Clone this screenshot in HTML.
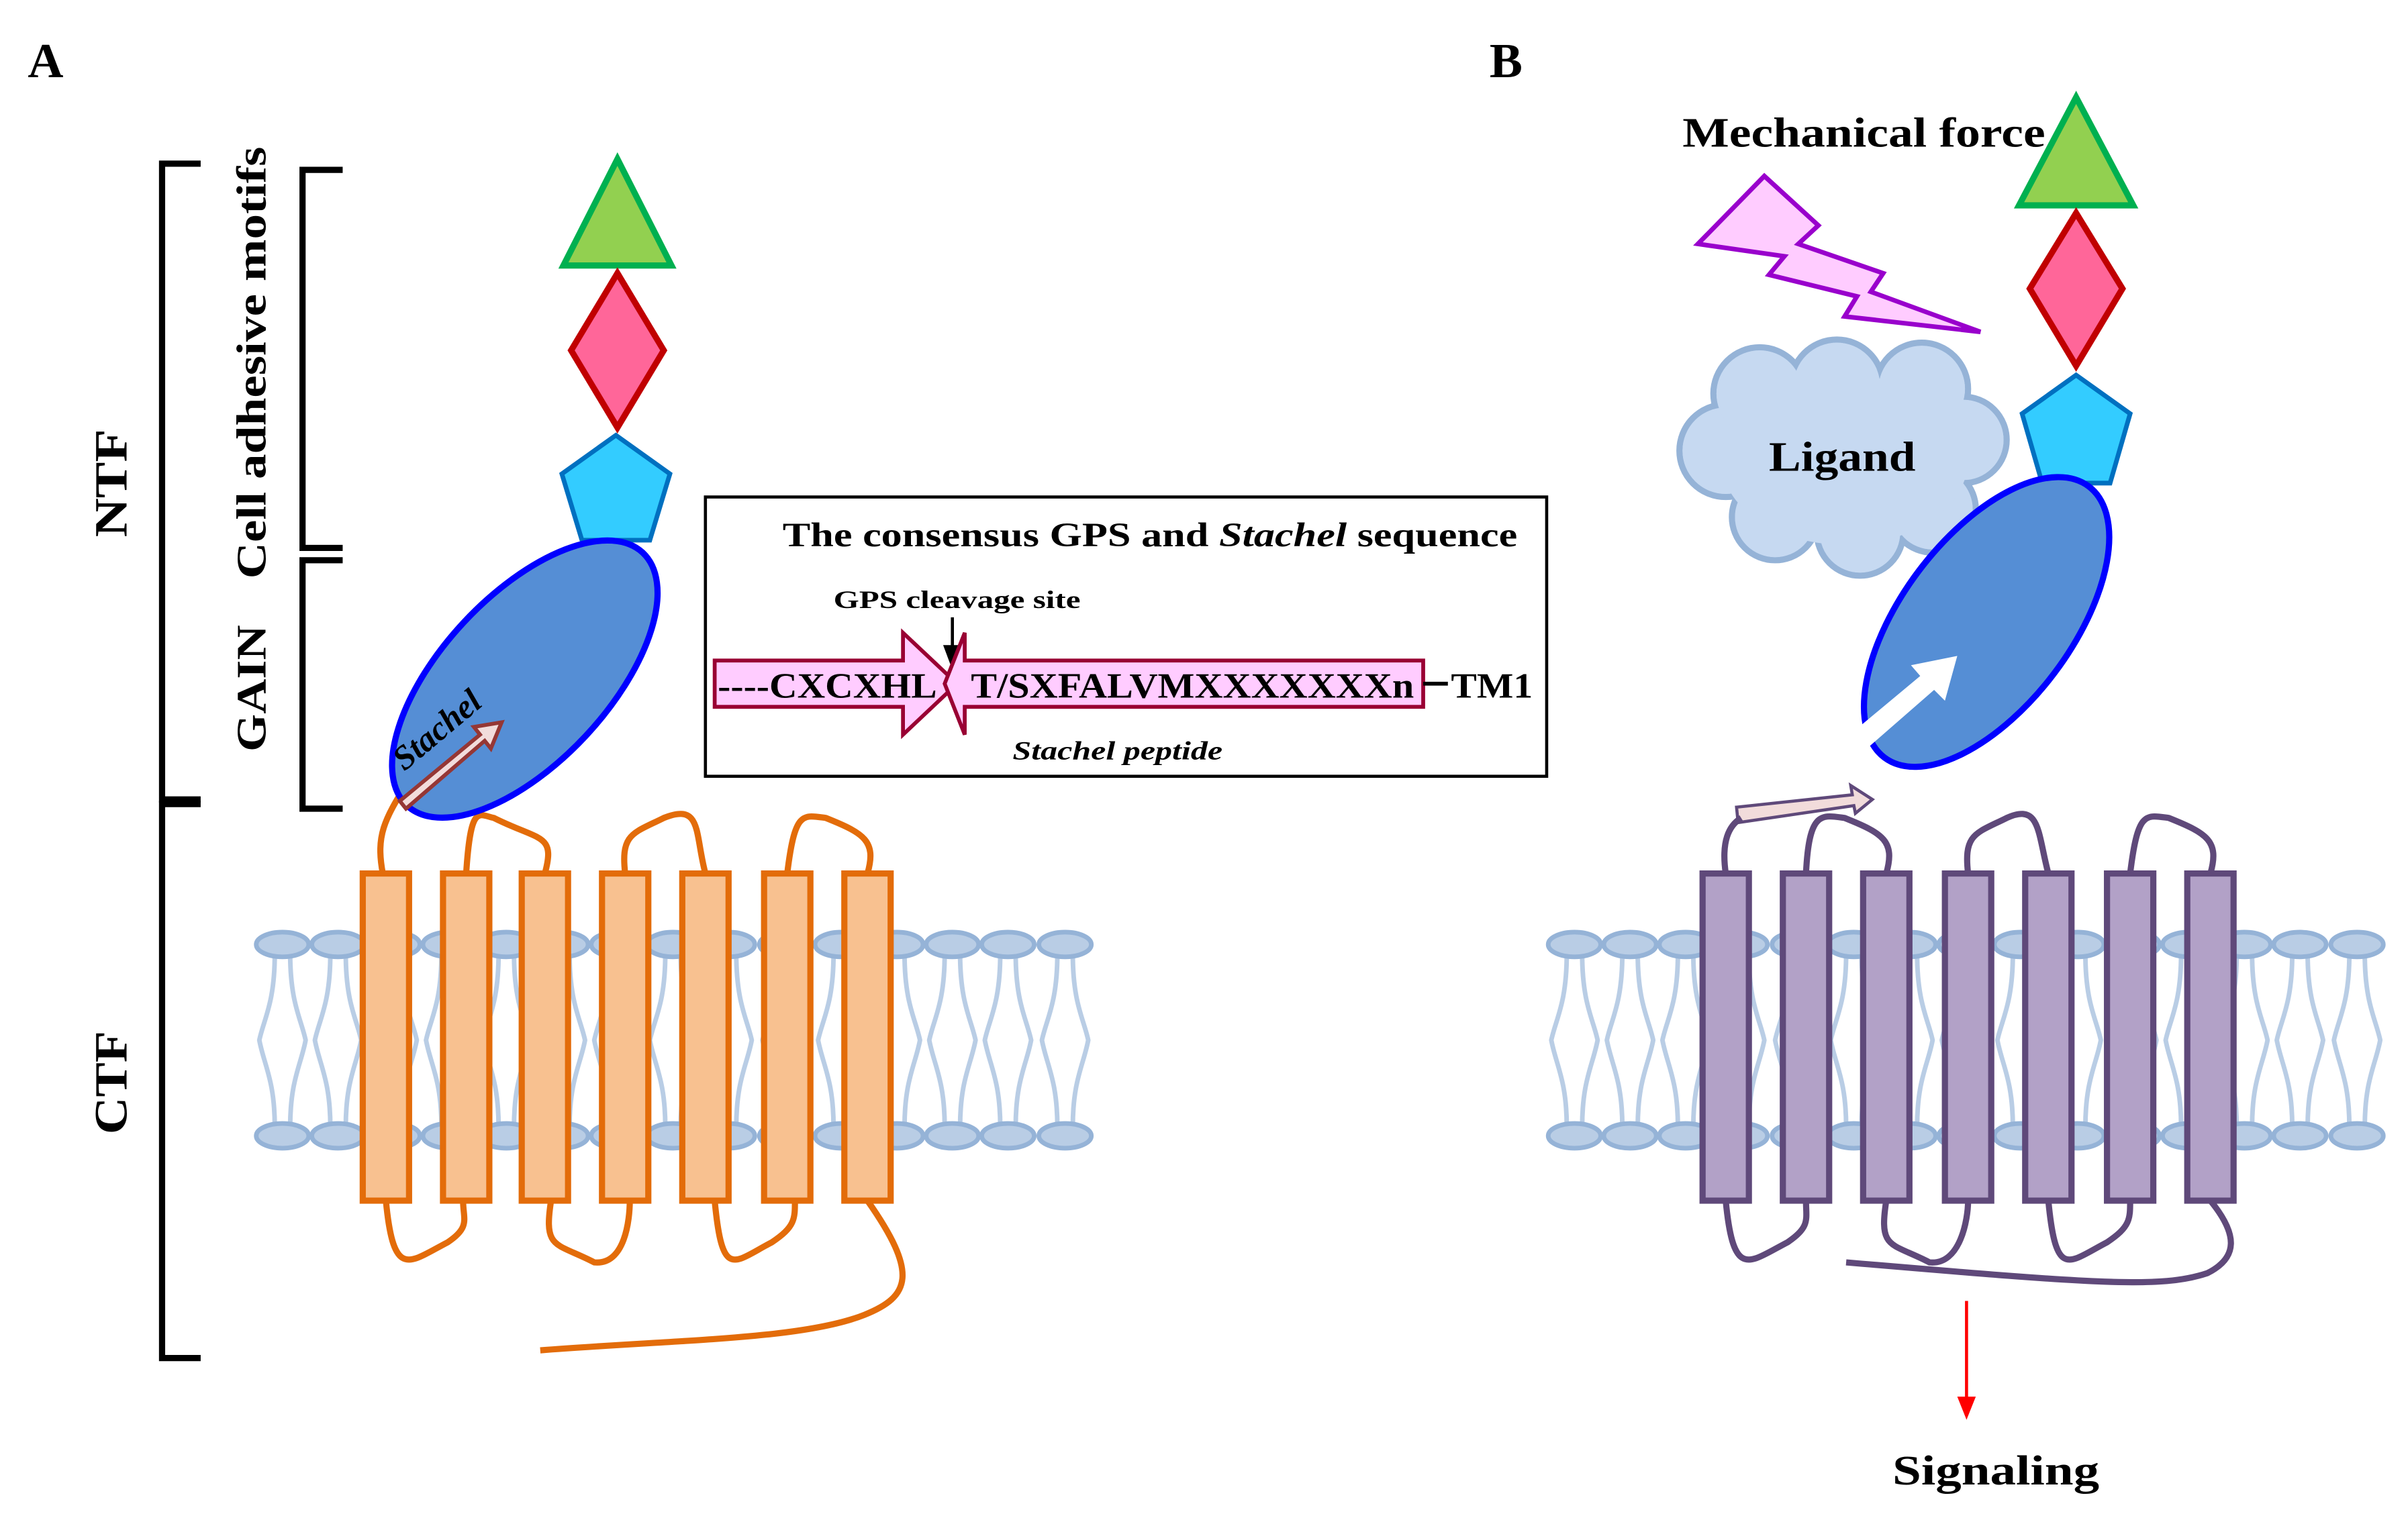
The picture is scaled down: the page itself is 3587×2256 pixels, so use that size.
<!DOCTYPE html>
<html><head><meta charset="utf-8"><style>
html,body{margin:0;padding:0;background:#fff;}
svg{display:block;}
text{font-family:"Liberation Serif",serif;font-weight:bold;}
</style></head><body>
<svg width="3587" height="2256" viewBox="0 0 1560 981" xmlns="http://www.w3.org/2000/svg">
<defs>
<g id="lip">
<path d="M-5,618 C-5,650 -12,660 -15,674 C-12,690 -5,700 -5,730 M5,618 C5,650 12,660 15,674 C12,690 5,700 5,730" fill="none" stroke="#b9cde5" stroke-width="3"/>
<ellipse cx="0" cy="612" rx="17" ry="8" fill="#b9cde5" stroke="#95b3d7" stroke-width="3"/>
<ellipse cx="0" cy="736" rx="17" ry="8" fill="#b9cde5" stroke="#95b3d7" stroke-width="3"/>
</g>
</defs>
<rect width="1560" height="981" fill="#fff"/>
<text x="18" y="50" font-size="32">A</text>
<text x="965" y="50" font-size="32">B</text>

<g fill="none" stroke="#000" stroke-width="4">
<path d="M130,106 H105 V518 H130"/>
<path d="M130,521 H105 V880 H130"/>
<path d="M222,110 H196 V355 H222"/>
<path d="M222,363 H196 V524 H222"/>
</g>
<text transform="translate(82,348) rotate(-90)" font-size="30" textLength="70" lengthAdjust="spacingAndGlyphs">NTF</text>
<text transform="translate(82,735) rotate(-90)" font-size="30" textLength="67" lengthAdjust="spacingAndGlyphs">CTF</text>
<text transform="translate(172,375) rotate(-90)" font-size="27" textLength="280" lengthAdjust="spacingAndGlyphs">Cell adhesive motifs</text>
<text transform="translate(172,487) rotate(-90)" font-size="27" textLength="82" lengthAdjust="spacingAndGlyphs">GAIN</text>

<g>
<use href="#lip" x="183"/><use href="#lip" x="219"/><use href="#lip" x="255"/><use href="#lip" x="291"/><use href="#lip" x="328"/><use href="#lip" x="364"/><use href="#lip" x="400"/><use href="#lip" x="436"/><use href="#lip" x="472"/><use href="#lip" x="509"/><use href="#lip" x="545"/><use href="#lip" x="581"/><use href="#lip" x="617"/><use href="#lip" x="653"/><use href="#lip" x="690"/>
<use href="#lip" x="1020"/><use href="#lip" x="1056"/><use href="#lip" x="1092"/><use href="#lip" x="1128"/><use href="#lip" x="1165"/><use href="#lip" x="1201"/><use href="#lip" x="1237"/><use href="#lip" x="1273"/><use href="#lip" x="1309"/><use href="#lip" x="1346"/><use href="#lip" x="1382"/><use href="#lip" x="1418"/><use href="#lip" x="1454"/><use href="#lip" x="1490"/><use href="#lip" x="1527"/>
</g>

<g fill="none" stroke="#e36c0a" stroke-width="4">
<path d="M248,566 C243,540 250,530 265,505"/>
<path d="M302,566 C305,520 310,528 320,530 C350,545 360,540 353,566"/>
<path d="M405,566 C402,540 410,540 430,530 C455,520 450,540 457,566"/>
<path d="M510,566 C515,525 520,528 535,530 C560,540 568,545 562,566"/>
<path d="M250,778 C255,830 265,818 290,805 C305,795 300,790 300,778"/>
<path d="M357,778 C352,810 360,805 385,818 C405,820 408,790 408,778"/>
<path d="M463,778 C468,830 475,818 500,805 C515,795 515,790 515,778"/>
<path d="M562,778 C595,825 590,840 560,852 C520,868 440,868 350,875"/>
</g>
<g fill="#f8c190" stroke="#e36c0a" stroke-width="4">
<rect x="235" y="566" width="30" height="212"/><rect x="287" y="566" width="30" height="212"/><rect x="338" y="566" width="30" height="212"/><rect x="390" y="566" width="30" height="212"/><rect x="442" y="566" width="30" height="212"/><rect x="495" y="566" width="30" height="212"/><rect x="547" y="566" width="30" height="212"/>
</g>

<polygon points="400,103 435,172 365,172" fill="#92d050" stroke="#00b050" stroke-width="4"/>
<polygon points="400,177 430,227 400,277 370,227" fill="#ff6699" stroke="#c00000" stroke-width="4"/>
<polygon points="399,282 434,307 421,350 377,350 364,307" fill="#33ccff" stroke="#0070c0" stroke-width="3"/>
<ellipse cx="340" cy="440" rx="112" ry="54" transform="rotate(-47 340 440)" fill="#558ed5" stroke="#0000ff" stroke-width="4"/>
<polygon points="259,519 311,476 307,471 325,468 318,485 314,480 263,524" fill="#f2dcdb" stroke="#953735" stroke-width="2.5"/>
<text transform="translate(262,500) rotate(-40)" font-size="22" font-style="italic">Stachel</text>

<rect x="457" y="322" width="545" height="181" fill="#fff" stroke="#000" stroke-width="2"/>
<text x="507" y="354" font-size="22" textLength="476" lengthAdjust="spacingAndGlyphs">The consensus GPS and <tspan font-style="italic">Stachel</tspan> sequence</text>
<text x="540" y="394" font-size="16" textLength="160" lengthAdjust="spacingAndGlyphs">GPS cleavage site</text>
<line x1="617" y1="400" x2="617" y2="420" stroke="#000" stroke-width="2"/>
<polygon points="611,418 623,418 617,434" fill="#000"/>
<polygon points="463,428 585,428 585,410 620,443 585,476 585,458 463,458" fill="#ffccff" stroke="#990033" stroke-width="2.5"/>
<polygon points="922,428 625,428 625,410 612,443 625,476 625,458 922,458" fill="#ffccff" stroke="#990033" stroke-width="2.5"/>
<text x="465" y="452" font-size="23" textLength="142" lengthAdjust="spacingAndGlyphs">----CXCXHL</text>
<text x="629" y="452" font-size="23" textLength="287" lengthAdjust="spacingAndGlyphs">T/SXFALVMXXXXXXXn</text>
<line x1="922" y1="443" x2="938" y2="443" stroke="#000" stroke-width="2.5"/>
<text x="940" y="452" font-size="23" textLength="53" lengthAdjust="spacingAndGlyphs">TM1</text>
<text x="656" y="492" font-size="17" font-style="italic" textLength="136" lengthAdjust="spacingAndGlyphs">Stachel peptide</text>

<text x="1090" y="95" font-size="27" textLength="235" lengthAdjust="spacingAndGlyphs">Mechanical force</text>
<polygon points="1100,158 1143,114 1178,146 1165,158 1220,177 1212,189 1283,215 1195,205 1203,192 1146,178 1156,166" fill="#ffccff" stroke="#9900cc" stroke-width="3"/>
<g stroke="#95b3d7" stroke-width="4" fill="#c6d9f1">
<circle cx="1118" cy="292" r="30"/><circle cx="1140" cy="255" r="30"/><circle cx="1190" cy="250" r="30"/><circle cx="1245" cy="252" r="30"/><circle cx="1272" cy="285" r="28"/><circle cx="1252" cy="330" r="28"/><circle cx="1205" cy="345" r="28"/><circle cx="1150" cy="335" r="28"/>
</g>
<g fill="#c6d9f1">
<circle cx="1118" cy="292" r="28"/><circle cx="1140" cy="255" r="28"/><circle cx="1190" cy="250" r="28"/><circle cx="1245" cy="252" r="28"/><circle cx="1272" cy="285" r="26"/><circle cx="1252" cy="330" r="26"/><circle cx="1205" cy="345" r="26"/><circle cx="1150" cy="335" r="26"/>
<ellipse cx="1195" cy="298" rx="80" ry="55"/>
</g>
<text x="1146" y="305" font-size="27" textLength="95" lengthAdjust="spacingAndGlyphs">Ligand</text>

<polygon points="1345,63 1382,133 1308,133" fill="#92d050" stroke="#00b050" stroke-width="4"/>
<polygon points="1345,138 1375,187 1345,237 1315,187" fill="#ff6699" stroke="#c00000" stroke-width="4"/>
<polygon points="1345,243 1380,268 1367,313 1323,313 1310,268" fill="#33ccff" stroke="#0070c0" stroke-width="3"/>
<ellipse cx="1287" cy="403" rx="110" ry="55" transform="rotate(-53 1287 403)" fill="#558ed5" stroke="#0000ff" stroke-width="4"/>
<polygon points="1196,478 1244,438 1238,431 1268,425 1260,454 1253,447 1206,488" fill="#fff"/>
<polygon points="1125,523 1200,515 1199,509 1213,518 1202,527 1201,522 1126,533" fill="#f2dcdb" stroke="#5f497a" stroke-width="2"/>

<g fill="none" stroke="#5f497a" stroke-width="4">
<path d="M1118,566 C1115,545 1120,535 1128,530"/>
<path d="M1170,566 C1172,525 1180,528 1195,530 C1220,540 1228,545 1222,566"/>
<path d="M1275,566 C1272,540 1280,540 1300,530 C1322,520 1320,540 1327,566"/>
<path d="M1380,566 C1385,525 1390,528 1405,530 C1430,540 1438,545 1432,566"/>
<path d="M1118,778 C1123,830 1133,818 1158,805 C1173,795 1170,790 1170,778"/>
<path d="M1222,778 C1217,810 1225,805 1250,818 C1270,820 1275,790 1275,778"/>
<path d="M1327,778 C1332,830 1340,818 1365,805 C1380,795 1380,790 1380,778"/>
<path d="M1432,778 C1450,800 1450,815 1430,825 C1400,835 1360,832 1196,818"/>
</g>
<g fill="#b2a1c7" stroke="#5f497a" stroke-width="4">
<rect x="1103" y="566" width="30" height="212"/><rect x="1155" y="566" width="30" height="212"/><rect x="1207" y="566" width="30" height="212"/><rect x="1260" y="566" width="30" height="212"/><rect x="1312" y="566" width="30" height="212"/><rect x="1365" y="566" width="30" height="212"/><rect x="1417" y="566" width="30" height="212"/>
</g>
<line x1="1274" y1="843" x2="1274" y2="908" stroke="#ff0000" stroke-width="2"/>
<polygon points="1268,905 1280,905 1274,920" fill="#ff0000"/>
<text x="1226" y="962" font-size="27" textLength="134" lengthAdjust="spacingAndGlyphs">Signaling</text>
</svg>
</body></html>
